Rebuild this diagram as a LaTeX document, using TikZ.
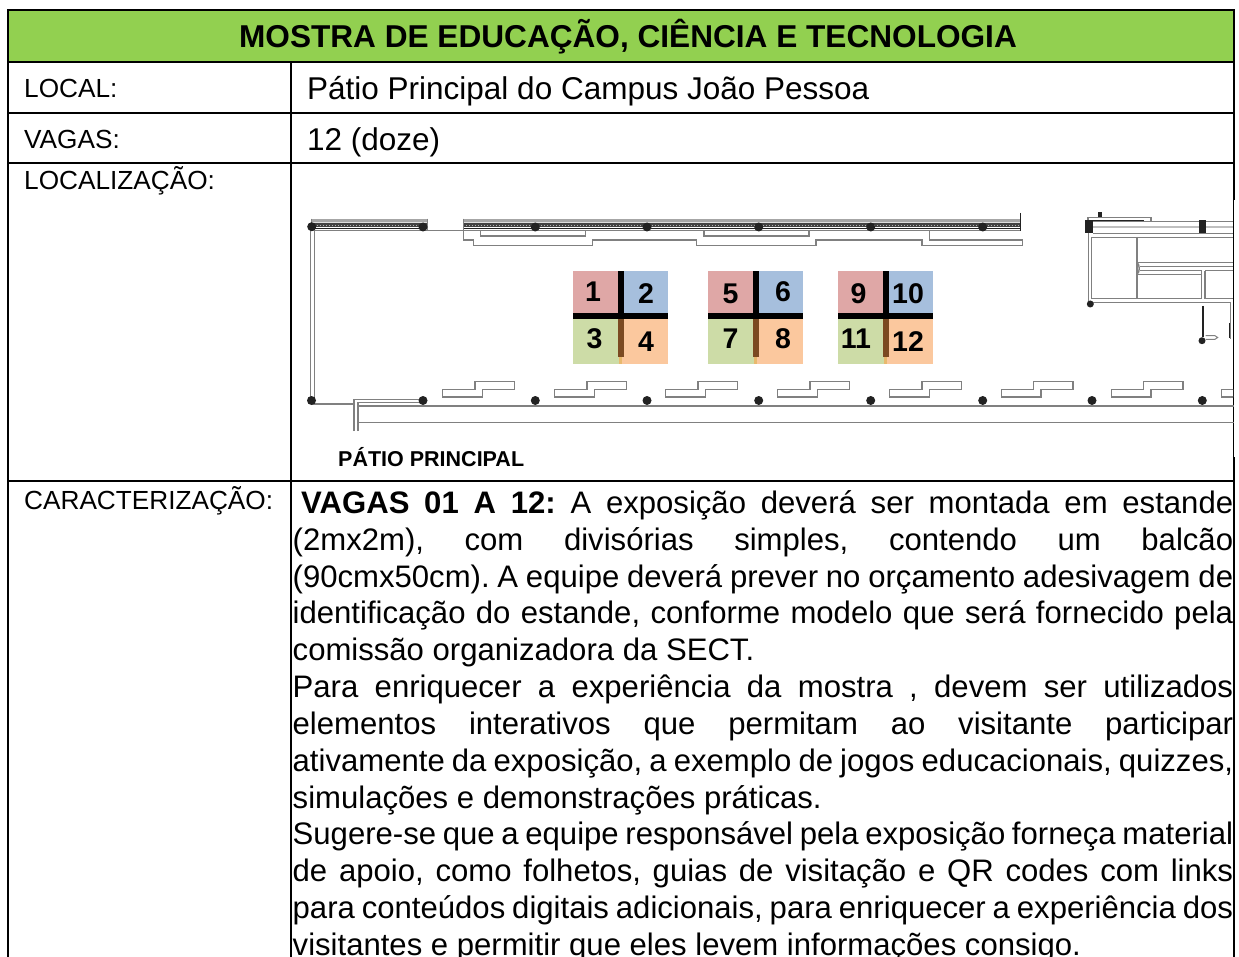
\documentclass[tikz,border=0pt]{standalone}
\usepackage{fontspec}
\setmainfont{Liberation Sans}
\definecolor{band}{HTML}{92D050}
\definecolor{qred}{HTML}{DFA7A6}
\definecolor{qblue}{HTML}{A6BFDD}
\definecolor{qgreen}{HTML}{CDDCA7}
\definecolor{qorange}{HTML}{FBC89E}
\definecolor{qbrown}{HTML}{7B4A21}
\definecolor{qtan}{HTML}{E8B96E}
\definecolor{planline}{HTML}{808080}
\definecolor{plandark}{HTML}{222222}
\newcommand{\fs}[1]{\fontsize{#1}{#1}\selectfont}
\newcommand{\jline}[3]{\node[bodyline] (#1) at (292.5,#2) {\makebox[940.5pt][s]{\frenchspacing\spaceskip=.278em plus 1fil minus .12em\relax #3}};}
\newcommand{\pline}[3]{\node[bodyline] (#1) at (292.5,#2) {#3};}
\tikzset{
  x=1pt,y=-1pt,
  rule/.style={draw=black,line width=2.4pt},
  label/.style={anchor=base west,inner sep=0pt,font=\fs{26.2}},
  value/.style={anchor=base west,inner sep=0pt,font=\fs{31.5}},
  bodyline/.style={anchor=base west,inner sep=0pt,font=\fs{31.1}},
  num/.style={inner sep=0pt,font=\bfseries\fs{28.5}},
  plan/.style={draw=planline,line width=1.4pt},
  planw/.style={draw=planline,line width=1.4pt,fill=white},
  dot/.style={circle,fill=plandark,inner sep=0pt,minimum size=9pt},
}
\begin{document}
\begin{tikzpicture}
\clip (0,0) rectangle (1239,957);
\useasboundingbox (0,0) rectangle (1239,957);
\fill[white] (0,0) rectangle (1239,957);
% table
\fill[band] (8,10) rectangle (1234,62);
\node[inner sep=0pt,anchor=base,font=\bfseries\fs{31.6}] (title) at (628,48) {MOSTRA DE EDUCAÇÃO, CIÊNCIA E TECNOLOGIA};
\draw[rule] (8,960) -- (8,10) -- (1234,10) -- (1234,200);
\draw[rule] (1234,457) -- (1234,960);
\draw[black,line width=1.2pt] (1233.6,200) -- (1233.6,457);
\draw[rule] (8,62) -- (1234,62);
\draw[rule] (8,113) -- (1234,113);
\draw[rule] (8,163) -- (1234,163);
\draw[rule] (8,481) -- (1234,481);
\draw[rule] (291,62) -- (291,960);
\node[label] (l1) at (24,98) {LOCAL:};
\node[label] (l2) at (24,149) {VAGAS:};
\node[label] (l3) at (24,190) {LOCALIZAÇÃO:};
\node[label] (l4) at (24,509) {CARACTERIZAÇÃO:};
\node[value] (v1) at (307,100) {Pátio Principal do Campus João Pessoa};
\node[value] (v2) at (307,151) {12 (doze)};
% plan: top walls
\foreach \a/\b in {311/427,463/1020}{
  \fill[gray!70] (\a,218.7) rectangle (\b,222);
  \fill[gray!25] (\a,222) rectangle (\b,223);
  \fill[plandark!85] (\a,223) rectangle (\b,227.5);
  \draw[gray!60,line width=.7pt,dash pattern=on 1pt off 2pt] (\a,225) -- (\b,225);
  \draw[plandark,line width=1pt] (\a,228.4) -- (\b,228.4);
  \draw[planline,line width=1pt] (\a,230.5) -- (\b,230.5);
  \draw[planline,line width=1pt] (\a,218.7) -- (\a,230.5);
  \draw[planline,line width=1pt] (\b,218.7) -- (\b,230.5);
}
\draw[plan,line width=1pt] (427,230.5) -- (463,230.5);
\draw[plandark,line width=1pt] (1020,213) -- (1020,231);
\draw[planw] (480.7,230.7) -- (480.7,236) -- (585.7,236) -- (585.7,230.7);
\draw[planw] (704,230.7) -- (704,236) -- (809,236) -- (809,230.7);
\draw[plan] (463.3,230.7) -- (463.3,240) -- (473.3,240) -- (473.3,245.7) -- (592.7,245.7) -- (592.7,240) -- (696.7,240) -- (696.7,245.7) -- (816,245.7) -- (816,240) -- (922,240) -- (922,245.7) -- (1022.3,245.7) -- (1022.3,240) -- (929.3,240) -- (929.3,230.7);
% left wall and bottom
\draw[plan] (310.3,227) -- (310.3,401);
\draw[plan] (314.5,230) -- (314.5,401);
\draw[plan] (311.7,404) -- (354,404);
\draw[plan] (354,431) -- (354,399.3) -- (420,399.3);
\draw[plan] (358,431) -- (358,402.7) -- (420,402.7);
\draw[plan] (358,406) -- (1234,406);
\draw[plan] (358,422.7) -- (1234,422.7);
\foreach \s in {442.7,554.7,665.7,777.7,889.7,1001.3,1111.3,1221.7}{
  \begin{scope}[shift={(\s,0)}]
    \clip (-10,370) rectangle ({1233-\s},410);
    \draw[planw] (0,389.3) -- (32.3,389.3) -- (32.3,381.7) -- (71.6,381.7) -- (71.6,389.3) -- (39.6,389.3) -- (39.6,397) -- (0,397) -- cycle;
  \end{scope}
}
\foreach \n/\x/\y in {a/311.7/226.7,b/423/227,c/535.3/227,d/647/227,e/758.7/227,f/870.7/227,g/982.7/227,h/311.5/400.5,i/423/400.5,j/535.3/400.5,k/647/400.5,l/758.7/400.5,m/870.7/400.5,n/982.7/400.5,o/1092/400.5,p/1202.3/400.5}{
  \node[dot] (col\n) at (\x,\y) {};
}
% plan: right block
\fill[plandark] (1097.7,212.5) rectangle (1102.3,217.5);
\draw[plan] (1088,221) -- (1088,217.3) -- (1151,217.3) -- (1151,221.7);
\draw[plandark,line width=1.4pt] (1088,220.5) -- (1144,220.5);
\draw[plan] (1093,221.7) -- (1233,221.7);
\draw[plan,gray!50,line width=2pt] (1093,227) -- (1233,227);
\draw[plan] (1093,233.3) -- (1233,233.3);
\draw[plan] (1091.7,237.3) -- (1233,237.3);
\fill[plandark] (1084.7,220) rectangle (1093.3,233.3);
\fill[plandark] (1199.3,220) rectangle (1205.7,233.3);
\draw[plan] (1088.3,233) -- (1088.3,302);
\draw[plan] (1091.7,237) -- (1091.7,298.3) -- (1201.7,298.3) -- (1201.7,270.7);
\draw[plan] (1088.3,302.3) -- (1205,302.3);
\draw[plan] (1137,237) -- (1137,298.3);
\draw[plan] (1137,262.3) -- (1233,262.3);
\draw[plan] (1137,274.3) -- (1201.7,274.3);
\draw[plan] (1140,266.7) -- (1233,266.7);
\draw[plan] (1140,270.7) -- (1201.7,270.7);
\draw[plan] (1137,262.3) .. controls (1140,265) and (1140,272) .. (1137,274.3);
\draw[plan] (1205,270.7) -- (1233,270.7);
\draw[plan] (1205,270.7) -- (1205,298.3) -- (1233,298.3);
\draw[plan] (1205,302.3) -- (1230.7,302.3) -- (1230.7,339);
\draw[plandark,line width=1.8pt] (1202.7,306) -- (1202.7,337);
\draw[plandark,line width=1.2pt] (1229.8,323) -- (1229.8,338);
\draw[planw,line width=1pt] (1205.7,335.7) -- (1215,335.7) -- (1217.7,337.5) -- (1215,339.3) -- (1205.7,339.3);
\node[dot,minimum size=7pt] (colq) at (1090.3,304) {};
\node[dot,minimum size=7pt] (colr) at (1202,340.7) {};
% stands
\foreach \x in {573,708,838}{
  \fill[qred] (\x,271) rectangle (\x+46,315);
  \fill[qblue] (\x+46,271) rectangle (\x+95,315);
  \fill[qgreen] (\x,315) rectangle (\x+46,363.7);
  \fill[qorange] (\x+46,315) rectangle (\x+95,363.7);
  \fill[qbrown] (\x+45.2,318) rectangle (\x+51.2,356.7);
  \fill[qtan] (\x+46.2,356.7) rectangle (\x+49,363.7);
  \fill[black] (\x+45.2,271) rectangle (\x+51.2,318);
  \fill[black] (\x,312.7) rectangle (\x+95,318.7);
}
\node[num] (s1) at (593,291.5) {1};
\node[num] (s2) at (646,293.5) {2};
\node[num] (s3) at (594.5,338.5) {3};
\node[num] (s4) at (646,341.5) {4};
\node[num] (s5) at (730.5,293.5) {5};
\node[num] (s6) at (783,291.5) {6};
\node[num] (s7) at (730.5,338.5) {7};
\node[num] (s8) at (783,338.5) {8};
\node[num] (s9) at (858.5,293.5) {9};
\node[num] (s10) at (908,293.5) {10};
\node[num] (s11) at (856,338.5) {11};
\node[num] (s12) at (908,341.5) {12};
\node[anchor=base west,inner sep=0pt,font=\bfseries\fs{21.5}] (patio) at (338,466) {PÁTIO PRINCIPAL};
% body
\node[bodyline] (b1) at (301,513) {\makebox[932pt][s]{\frenchspacing\spaceskip=.278em plus 1fil minus .12em\relax \textbf{VAGAS 01 A 12:} A exposição deverá ser montada em estande}};
\jline{b2}{550}{(2mx2m), com divisórias simples, contendo um balcão}
\jline{b3}{587}{(90cmx50cm). A equipe deverá prever no orçamento adesivagem de}
\jline{b4}{623}{identificação do estande, conforme modelo que será fornecido pela}
\pline{b5}{660}{comissão organizadora da SECT.}
\jline{b6}{697}{Para enriquecer a experiência da mostra , devem ser utilizados}
\jline{b7}{734}{elementos interativos que permitam ao visitante participar}
\jline{b8}{771}{ativamente da exposição, a exemplo de jogos educacionais, quizzes,}
\pline{b9}{808}{simulações e demonstrações práticas.}
\jline{b10}{844}{Sugere-se que a equipe responsável pela exposição forneça material}
\jline{b11}{881}{de apoio, como folhetos, guias de visitação e QR codes com links}
\jline{b12}{918}{para conteúdos digitais adicionais, para enriquecer a experiência dos}
\pline{b13}{955}{visitantes e permitir que eles levem informações consigo.}
\end{tikzpicture}
\end{document}
